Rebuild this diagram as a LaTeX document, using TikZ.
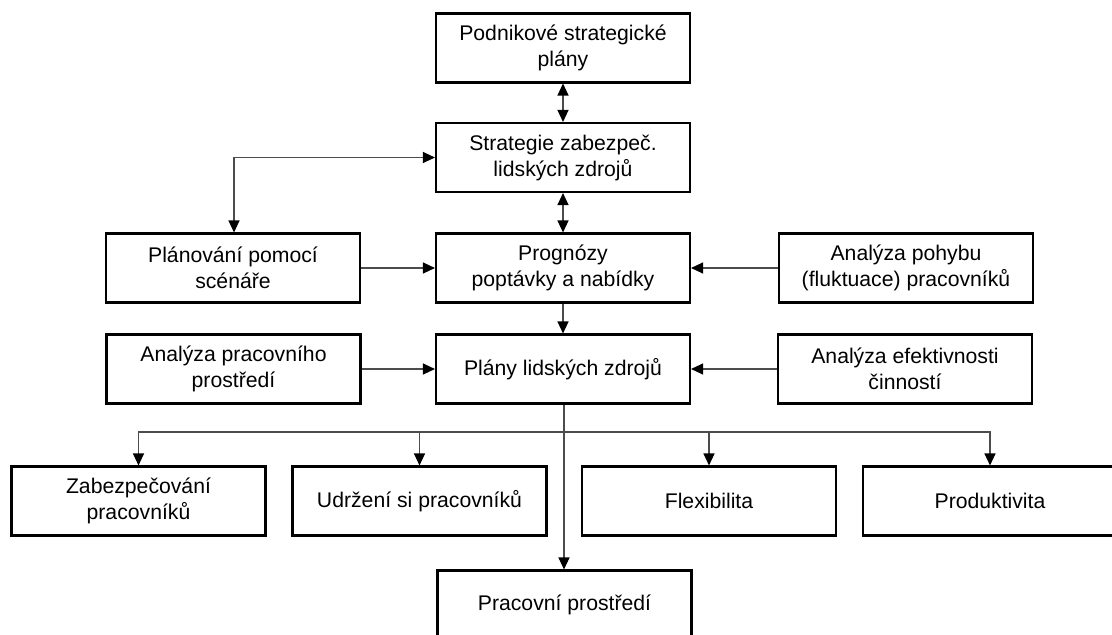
\documentclass[tikz,border=0pt]{standalone}
\usepackage{fontspec}
\setmainfont{Liberation Sans}
\usetikzlibrary{arrows.meta}
\begin{document}
\begin{tikzpicture}[x=1pt,y=-1pt,
  box/.style={draw=black,line width=2.1pt,minimum width=254pt,minimum height=69pt,
    align=center,inner sep=0pt,text=black,
    font=\fontsize{21.2}{26}\selectfont},
  conn/.style={draw=black!70,line width=1.2pt},
  tip/.style={-{Triangle[length=12pt,width=11pt,color=black]}},
  tips/.style={{Triangle[length=12pt,width=11pt,color=black]}-{Triangle[length=12pt,width=11pt,color=black]}}]
\useasboundingbox (0,0) rectangle (1112,635);
\begin{scope}
\clip (0,0) rectangle (1112,635);
\node[box] (pod) at (563,48) {Podnikové strategické\\plány};
\node[box] (str) at (563,157.5) {Strategie zabezpeč.\\lidských zdrojů};
\node[box] (pla) at (233,268) {Plánování pomocí\\scénáře};
\node[box] (pro) at (563,268) {Prognózy\\poptávky a nabídky};
\node[box] (poh) at (906,268) {Analýza pohybu\\(fluktuace) pracovníků};
\node[box] (apr) at (233.5,369) {Analýza pracovního\\prostředí};
\node[box] (plz) at (563,369) {Plány lidských zdrojů};
\node[box] (aef) at (905,369) {Analýza efektivnosti\\činností};
\node[box] (zab) at (138.5,501) {Zabezpečování\\pracovníků};
\node[box] (udr) at (419.5,501) {Udržení si pracovníků};
\node[box] (fle) at (709,501) {Flexibilita};
\node[box] (prd) at (990,501) {Produktivita};
\node[box] (pps) at (564.5,605) {Pracovní prostředí};
\coordinate (j) at (564,432);
\coordinate (k) at (234,157.5);

\draw[conn,tips] (pod.south) -- (str.north);
\draw[conn,tips] (str.south) -- (pro.north);
\draw[conn,tips] (str.west) -- (k) -- (pla.north -| k);
\draw[conn,tip] (pla.east) -- (pro.west);
\draw[conn,tip] (poh.west) -- (pro.east);
\draw[conn,tip] (pro.south) -- (plz.north);
\draw[conn,tip] (apr.east) -- (plz.west);
\draw[conn,tip] (aef.west) -- (plz.east);
\draw[conn,tip] (plz.south -| j) -- (pps.north -| j);
\draw[conn,tip] (j) -| (zab.north);
\draw[conn,tip] (j) -| (udr.north);
\draw[conn,tip] (j) -| (fle.north);
\draw[conn,tip] (j) -| (prd.north);
\end{scope}
\end{tikzpicture}
\end{document}
